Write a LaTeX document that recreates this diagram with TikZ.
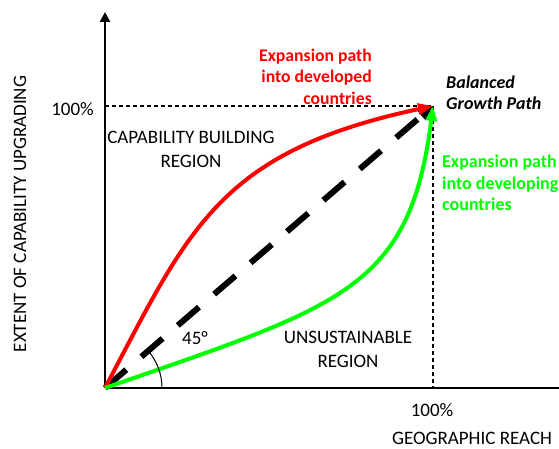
\documentclass[tikz,border=0pt]{standalone}
\usepackage{fontspec}
\setmainfont{Carlito}
\usepackage{xcolor}
\usepackage{tikz}
\usetikzlibrary{arrows.meta,positioning,calc}

\definecolor{pathred}{RGB}{255,0,0}
\definecolor{pathgreen}{RGB}{0,255,0}

\begin{document}
\begin{tikzpicture}[x=1pt,y=1pt,
    lbl/.style={font=\fontsize{19}{24}\selectfont, align=center, inner sep=0pt},
    redlbl/.style={font=\fontsize{17.7}{21.5}\selectfont\bfseries, text=pathred, align=right, inner sep=0pt},
    greenlbl/.style={font=\fontsize{18}{21.5}\selectfont\bfseries, text=pathgreen, align=left, inner sep=0pt},
    ballbl/.style={font=\fontsize{18}{21}\selectfont\bfseries\itshape, align=left, inner sep=0pt},
    axis/.style={line width=2.5pt},
    guide/.style={line width=1.2pt, dash pattern=on 4pt off 3pt},
    tip/.style={-{Triangle[length=15pt,width=11pt]}}
]
    \useasboundingbox (0,0) rectangle (559,449);

    % axes and corner points
    \coordinate (O) at (105,61);
    \coordinate (P) at (433,343);
    \coordinate (ytop) at (105,437);
    \coordinate (xend) at (559,61);
    \coordinate (ymark) at (105,343);
    \coordinate (xmark) at (433,61);

    \draw[guide] (ymark) -- (P);
    \draw[guide] (P) -- (xmark);

    \draw[axis,-{Triangle[length=10pt,width=10pt]}] (O) -- (ytop);
    \draw[axis] (O) -- (xend);

    % the three paths
    \draw[line width=6pt, dash pattern=on 28pt off 20pt, tip] (O) -- (P);
    \draw[line width=4pt, pathred, tip] (O) .. controls (189,220) and (218,297) .. (P);
    \draw[line width=4pt, pathgreen, tip] (O) .. controls (341,143) and (410,159) .. (P);

    \draw[line width=1pt] ($(O)+(57,0)$) arc[start angle=0, end angle=40.7, radius=57pt];

    % labels
    \node[lbl] (yhundred) at (72.5,340) {100\%};
    \node[lbl] (xhundred) at (432,39) {100\%};
    \node[lbl] (xlabel) at (472,11) {GEOGRAPHIC REACH};
    \node[lbl, rotate=90] (ylabel) at (20,235) {EXTENT OF CAPABILITY UPGRADING};
    \node[lbl] (capreg) at (191,300) {CAPABILITY BUILDING\\REGION};
    \node[lbl] (unsreg) at (348,100) {UNSUSTAINABLE\\REGION};
    \node[lbl] (anglelbl) at (195,111) {45°};
    \node[redlbl, anchor=east] (redtxt) at (372,372.5) {Expansion path\\into developed\\countries};
    \node[ballbl, anchor=west] (baltxt) at (446,356) {Balanced\\Growth Path};
    \node[greenlbl, anchor=west] (greentxt) at (442,266) {Expansion path\\into developing\\countries};
\end{tikzpicture}
\end{document}
